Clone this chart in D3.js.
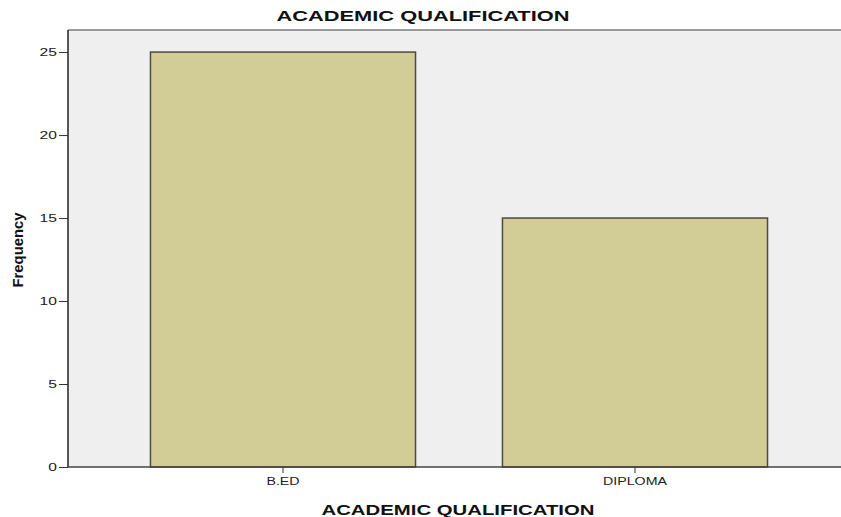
<!DOCTYPE html>
<html><head><meta charset="utf-8">
<script src="https://cdn.jsdelivr.net/npm/d3@7"></script>
<style>body{margin:0;background:#fff}svg{display:block}</style>
</head><body>
<script>
const categories = ["B.ED", "DIPLOMA"];
const frequencies = [25, 15];
const yTicks = [0, 5, 10, 15, 20, 25];
const chartTitle = "ACADEMIC QUALIFICATION";
const xTitle = "ACADEMIC QUALIFICATION";
const yTitle = "Frequency";

const W = 841, H = 517;
const plot = {left: 68, right: 841, top: 30, bottom: 467};
const svg = d3.select("body").append("svg").attr("width", W).attr("height", H);
const FONT = "Liberation Sans, Arial, sans-serif";
const STRETCH = 1.42;

const x = d3.scaleBand().domain(categories).range([107, 811]).paddingInner(0.247).paddingOuter(0.1235);
const y = d3.scaleLinear().domain([0, 26.33]).range([plot.bottom, plot.top]);

svg.append("rect").attr("x", plot.left).attr("y", plot.top)
  .attr("width", plot.right - plot.left).attr("height", plot.bottom - plot.top)
  .attr("fill", "#efefef");
svg.append("line").attr("x1", plot.left).attr("x2", plot.right)
  .attr("y1", plot.top).attr("y2", plot.top).attr("stroke", "#7a7a7a").attr("stroke-width", 1.5);

svg.selectAll("rect.bar").data(categories).enter().append("rect").attr("class", "bar")
  .attr("x", d => x(d)).attr("width", x.bandwidth())
  .attr("y", (d, i) => y(frequencies[i]))
  .attr("height", (d, i) => y(0) - y(frequencies[i]))
  .attr("fill", "#d2cd97").attr("stroke", "#4a4a40").attr("stroke-width", 1.5);

function stretch(sel) {
  sel.each(function() {
    const len = this.getComputedTextLength();
    d3.select(this).attr("textLength", len * STRETCH).attr("lengthAdjust", "spacingAndGlyphs");
  });
}

const yAxis = svg.append("g").attr("transform", `translate(${plot.left},0)`)
  .call(d3.axisLeft(y).tickValues(yTicks).tickSize(9).tickPadding(2).tickFormat(d3.format("d")));
yAxis.select(".domain").attr("d", `M0,${plot.top}V${plot.bottom}`).attr("stroke", "#222").attr("stroke-width", 1.5);
yAxis.selectAll(".tick line").attr("stroke", "#333");
yAxis.selectAll("text").attr("font-family", FONT).attr("font-size", 11).attr("fill", "#222").call(stretch);

const xAxis = svg.append("g").attr("transform", `translate(0,${plot.bottom})`)
  .call(d3.axisBottom(x).tickSize(6).tickPadding(5));
xAxis.select(".domain").attr("d", `M${plot.left},0H${plot.right}`).attr("stroke", "#444").attr("stroke-width", 1.5);
xAxis.selectAll(".tick line").attr("stroke", "#333");
xAxis.selectAll("text").attr("font-family", FONT).attr("font-size", 10).attr("fill", "#222").call(stretch);

svg.append("text").attr("x", 423).attr("y", 21).attr("text-anchor", "middle")
  .attr("font-family", FONT).attr("font-weight", "bold").attr("font-size", 15)
  .attr("fill", "#111").attr("textLength", 293).attr("lengthAdjust", "spacingAndGlyphs").text(chartTitle);
svg.append("text").attr("x", 458).attr("y", 515).attr("text-anchor", "middle")
  .attr("font-family", FONT).attr("font-weight", "bold").attr("font-size", 15.5)
  .attr("fill", "#111").attr("textLength", 273).attr("lengthAdjust", "spacingAndGlyphs").text(xTitle);
svg.append("text").attr("transform", "translate(23,250) rotate(-90)").attr("text-anchor", "middle")
  .attr("font-family", FONT).attr("font-weight", "bold").attr("font-size", 15.5)
  .attr("fill", "#111").attr("textLength", 75).attr("lengthAdjust", "spacingAndGlyphs").text(yTitle);
</script>
</body></html>
